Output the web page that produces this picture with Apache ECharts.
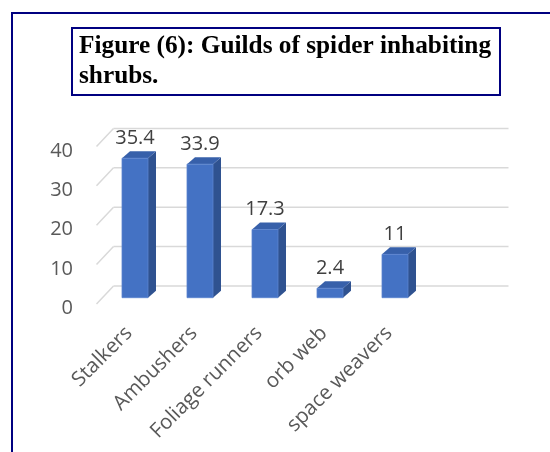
<!DOCTYPE html>
<html>
<head>
<meta charset="utf-8">
<script src="https://cdn.jsdelivr.net/npm/echarts@6/dist/echarts.min.js"></script>
<style>
  html, body { margin: 0; padding: 0; background: #fff; }
  #main { width: 550px; height: 452px; }
</style>
</head>
<body>
<div id="main"></div>
<script>
var categories = ['Stalkers', 'Ambushers', 'Foliage runners', 'orb web', 'space weavers'];
var values = [35.4, 33.9, 17.3, 2.4, 11];
var yTicks = [0, 10, 20, 30, 40];

// fake 3D: the grid is the front edge of the floor, everything else is pushed back
var BAR_DX = 6, BAR_DY = -6.3;    // front face of the columns
var THICK_DX = 8, THICK_DY = -7;  // column depth
var WALL_DX = 17, WALL_DY = -18;  // back wall with the gridlines

var chart = echarts.init(document.getElementById('main'));

function gridItem(params, api) {
  var cs = params.coordSys;
  var y = api.coord([0, api.value(1)])[1];
  var left = cs.x, right = cs.x + cs.width;
  var style = { stroke: '#d9d9d9', lineWidth: 1.5 };
  return {
    type: 'group',
    children: [
      { type: 'line', shape: { x1: left + WALL_DX, y1: y + WALL_DY, x2: right + WALL_DX + 5, y2: y + WALL_DY }, style: style },
      { type: 'line', shape: { x1: left, y1: y, x2: left + WALL_DX, y2: y + WALL_DY }, style: style }
    ]
  };
}

function barItem(params, api) {
  var idx = api.value(0), v = api.value(1);
  var top = api.coord([idx, v]);
  var base = api.coord([idx, 0]);
  var w = api.size([1, 0])[0] * 0.4;
  var cx = top[0] + BAR_DX;
  var t = top[1] + BAR_DY, b = base[1] + BAR_DY;
  var l = cx - w / 2, r = cx + w / 2;
  return {
    type: 'group',
    children: [
      { type: 'polygon', shape: { points: [[r, t], [r + THICK_DX, t + THICK_DY], [r + THICK_DX, b + THICK_DY], [r, b]] },
        style: { fill: '#2f5290' } },
      { type: 'polygon', shape: { points: [[l, t], [l + THICK_DX, t + THICK_DY], [r + THICK_DX, t + THICK_DY], [r, t]] },
        style: { fill: '#3760aa' } },
      { type: 'rect', shape: { x: l, y: t, width: w, height: b - t },
        style: { fill: '#4472c4', stroke: '#5a84cf', lineWidth: 0.8 } },
      { type: 'text', x: cx, y: t - 20,
        style: { text: String(v), fill: '#404040', font: '20px "Open Sans"', align: 'center', verticalAlign: 'middle' } }
    ]
  };
}

var option = {
  animation: false,
  backgroundColor: '#fff',
  title: {
    text: 'Figure (6): Guilds of spider inhabiting\nshrubs.',
    left: 72,
    top: 28,
    padding: [3, 9, 4, 7],
    borderColor: '#000080',
    borderWidth: 2,
    textStyle: {
      fontFamily: '"Liberation Serif", "Times New Roman", serif',
      fontWeight: 'bold',
      fontSize: 25.3,
      lineHeight: 30,
      color: '#000'
    }
  },
  graphic: [
    { type: 'rect', z: -1, shape: { x: 12, y: 13, width: 700, height: 600 },
      style: { fill: 'none', stroke: '#000080', lineWidth: 2 } }
  ],
  grid: { left: 96.5, right: 63.5, top: 146.4, bottom: 148 },
  xAxis: {
    type: 'category',
    data: categories.concat(['']),
    axisLine: { show: false },
    axisTick: { show: false },
    axisLabel: {
      interval: 0,
      rotate: 45,
      margin: 26,
      fontFamily: 'Open Sans',
      fontSize: 20.5,
      color: '#595959'
    }
  },
  yAxis: {
    type: 'value',
    min: 0,
    max: 40,
    interval: 10,
    splitLine: { show: false },
    axisLine: { show: false },
    axisTick: { show: false },
    axisLabel: {
      margin: 23.5,
      fontFamily: 'Open Sans',
      fontSize: 20,
      color: '#595959',
      verticalAlign: 'top',
      lineHeight: 9
    }
  },
  series: [
    {
      type: 'custom',
      renderItem: gridItem,
      data: yTicks.map(function (t) { return [0, t]; }),
      silent: true,
      z: 1
    },
    {
      type: 'custom',
      renderItem: barItem,
      data: values.map(function (v, i) { return [i, v]; }),
      z: 2
    }
  ]
};

chart.setOption(option);
</script>
</body>
</html>
